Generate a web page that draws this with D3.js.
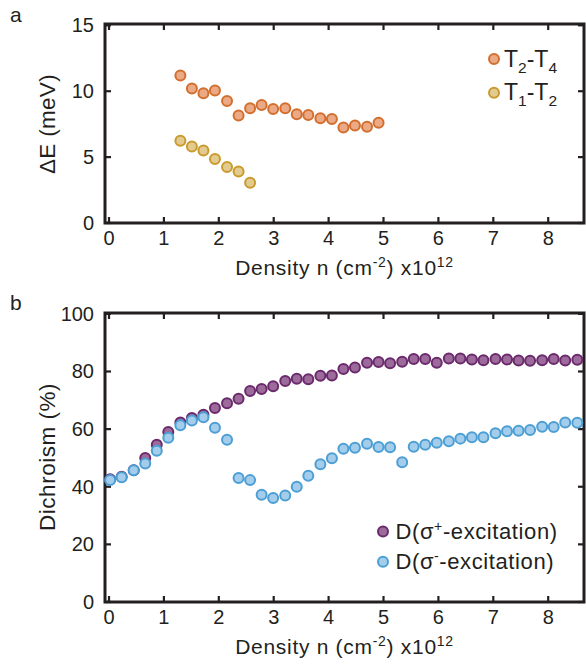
<!DOCTYPE html>
<html lang="en">
<head>
    <meta charset="UTF-8">
    <title>Splitting and dichroism vs density</title>
    <script src="https://d3js.org/d3.v7.min.js"></script>
    <style>
        body { margin: 0; background: #fff; }
        svg { display: block; font-family: "Liberation Sans", Arial, sans-serif; }
        text { fill: #231f20; }
    </style>
</head>
<body>
    <svg id="chart" width="586" height="664"></svg>
    <script>
        // ---- data ----
        // panel a: energy splitting (meV)
        const densA = [1.30, 1.51, 1.72, 1.93, 2.15, 2.36, 2.57, 2.78, 2.99, 3.21, 3.42, 3.63, 3.85, 4.06, 4.27, 4.48, 4.70, 4.91];
        const t2t4 = [11.2, 10.2, 9.85, 10.05, 9.25, 8.15, 8.7, 8.95, 8.65, 8.7, 8.25, 8.2, 7.95, 7.9, 7.25, 7.4, 7.3, 7.6];
        const densA2 = [1.30, 1.51, 1.72, 1.93, 2.15, 2.36, 2.57];
        const t1t2 = [6.25, 5.8, 5.5, 4.85, 4.25, 3.9, 3.05];

        // panel b: dichroism (%)
        const densB = [0.02, 0.23, 0.45, 0.66, 0.87, 1.08, 1.30, 1.51, 1.72, 1.93, 2.15, 2.36, 2.57, 2.78, 2.99, 3.21,
                       3.42, 3.63, 3.85, 4.06, 4.27, 4.48, 4.70, 4.91, 5.12, 5.34, 5.55, 5.76, 5.97, 6.19, 6.40, 6.61,
                       6.82, 7.04, 7.25, 7.46, 7.67, 7.89, 8.10, 8.31, 8.53];
        const dPlus = [42.6, 43.5, 45.7, 50.0, 54.6, 59.0, 62.3, 63.9, 65.0, 67.3, 69.0, 70.5, 73.2, 73.9, 74.9, 76.7,
                       77.5, 77.3, 78.5, 78.6, 80.9, 81.4, 83.0, 83.3, 82.9, 83.4, 84.3, 84.3, 83.0, 84.5, 84.5, 84.2,
                       83.9, 84.3, 84.2, 83.8, 83.7, 83.9, 84.3, 83.8, 84.1];
        const dMinus = [42.3, 43.3, 45.7, 48.1, 52.5, 57.0, 61.3, 63.0, 64.1, 60.5, 56.3, 43.0, 42.3, 37.2, 36.1, 37.0,
                        40.0, 43.8, 47.8, 49.9, 53.2, 53.5, 54.9, 53.8, 53.7, 48.5, 53.9, 54.6, 55.3, 55.8, 56.7, 57.2,
                        57.2, 58.6, 59.3, 59.4, 59.7, 60.8, 60.7, 62.3, 62.2];

        const xTicks = [0, 1, 2, 3, 4, 5, 6, 7, 8];
        const yTicksA = [0, 5, 10, 15];
        const yTicksB = [0, 20, 40, 60, 80, 100];

        const ink = "#231f20";
        const svg = d3.select("#chart");

        // shared x scale, frame runs from 105 to 584
        const x = d3.scaleLinear().domain([-0.073, 8.652]).range([105, 584]);

        function panel(top, bottom, yDomain, yTicks) {
            const y = d3.scaleLinear().domain(yDomain).range([bottom, top]);
            const g = svg.append("g");
            const tl = 6;
            // frame
            g.append("rect")
                .attr("x", x.range()[0]).attr("y", top)
                .attr("width", x.range()[1] - x.range()[0]).attr("height", bottom - top)
                .attr("fill", "none").attr("stroke", ink).attr("stroke-width", 3);
            // inward ticks on all four sides
            xTicks.forEach(t => {
                g.append("line").attr("x1", x(t)).attr("x2", x(t)).attr("y1", bottom).attr("y2", bottom - tl)
                    .attr("stroke", ink).attr("stroke-width", 2.2);
                g.append("line").attr("x1", x(t)).attr("x2", x(t)).attr("y1", top).attr("y2", top + tl)
                    .attr("stroke", ink).attr("stroke-width", 2.2);
                g.append("text").attr("x", x(t)).attr("y", bottom + 22)
                    .attr("text-anchor", "middle").attr("font-size", 20).text(t);
            });
            yTicks.forEach(t => {
                g.append("line").attr("x1", x.range()[0]).attr("x2", x.range()[0] + tl).attr("y1", y(t)).attr("y2", y(t))
                    .attr("stroke", ink).attr("stroke-width", 2.2);
                g.append("line").attr("x1", x.range()[1]).attr("x2", x.range()[1] - tl).attr("y1", y(t)).attr("y2", y(t))
                    .attr("stroke", ink).attr("stroke-width", 2.2);
                g.append("text").attr("x", 94).attr("y", y(t) + 7)
                    .attr("text-anchor", "end").attr("font-size", 20).text(t);
            });
            // x title
            const xt = g.append("text").attr("x", (x.range()[0] + x.range()[1]) / 2).attr("y", bottom + 52)
                .attr("text-anchor", "middle").attr("font-size", 21).attr("letter-spacing", 0.7);
            xt.append("tspan").text("Density n (cm");
            xt.append("tspan").attr("font-size", 14).attr("dy", -8).text("-2");
            xt.append("tspan").attr("dy", 8).text(") x10");
            xt.append("tspan").attr("font-size", 14).attr("dy", -8).text("12");
            return { g, y };
        }

        function dots(g, y, xs, ys, fill, stroke) {
            g.selectAll(null).data(xs.map((d, i) => [d, ys[i]])).enter()
                .append("circle")
                .attr("cx", d => x(d[0])).attr("cy", d => y(d[1]))
                .attr("r", 5)
                .attr("fill", fill).attr("stroke", stroke).attr("stroke-width", 2);
        }

        const orange = { fill: "#eba985", stroke: "#d36f2e" };
        const gold = { fill: "#e3ca90", stroke: "#c99b2c" };
        const purple = { fill: "#9c6b9c", stroke: "#6b2a6b" };
        const blue = { fill: "#a4cdeb", stroke: "#4b9fd5" };

        // ---- panel a ----
        const pa = panel(24, 223, [0, 15.1], yTicksA);
        dots(pa.g, pa.y, densA, t2t4, orange.fill, orange.stroke);
        dots(pa.g, pa.y, densA2, t1t2, gold.fill, gold.stroke);

        svg.append("text").attr("x", 10).attr("y", 21.5).attr("font-size", 21).text("a");
        svg.append("text").attr("transform", "translate(55,124) rotate(-90)")
            .attr("text-anchor", "middle").attr("font-size", 22.5).attr("letter-spacing", 0.3).text("ΔE (meV)");

        // legend a
        [[orange, "2", "4", 59], [gold, "1", "2", 92.7]].forEach(([c, s1, s2, cy]) => {
            svg.append("circle").attr("cx", 494).attr("cy", cy).attr("r", 5)
                .attr("fill", c.fill).attr("stroke", c.stroke).attr("stroke-width", 2);
            const t = svg.append("text").attr("x", 504).attr("y", cy + 7.5).attr("font-size", 23);
            t.append("tspan").text("T");
            t.append("tspan").attr("font-size", 15.5).attr("dy", 6).text(s1);
            t.append("tspan").attr("dy", -6).text("-T");
            t.append("tspan").attr("font-size", 15.5).attr("dy", 6).text(s2);
        });

        // ---- panel b ----
        const pb = panel(313, 602, [0, 100.3], yTicksB);
        dots(pb.g, pb.y, densB, dPlus, purple.fill, purple.stroke);
        dots(pb.g, pb.y, densB, dMinus, blue.fill, blue.stroke);

        svg.append("text").attr("x", 10).attr("y", 310).attr("font-size", 21).text("b");
        svg.append("text").attr("transform", "translate(55,457) rotate(-90)")
            .attr("text-anchor", "middle").attr("font-size", 22.5).attr("letter-spacing", 0.5).text("Dichroism (%)");

        // legend b
        [[purple, "+", 531.5], [blue, "-", 561.7]].forEach(([c, sign, cy]) => {
            svg.append("circle").attr("cx", 383).attr("cy", cy).attr("r", 5)
                .attr("fill", c.fill).attr("stroke", c.stroke).attr("stroke-width", 2);
            const t = svg.append("text").attr("x", 395.5).attr("y", cy + 7.5).attr("font-size", 22).attr("letter-spacing", 0.6);
            t.append("tspan").text("D(σ");
            t.append("tspan").attr("font-size", 14).attr("dy", -8).text(sign);
            t.append("tspan").attr("dy", 8).text("-excitation)");
        });
    </script>
</body>
</html>
